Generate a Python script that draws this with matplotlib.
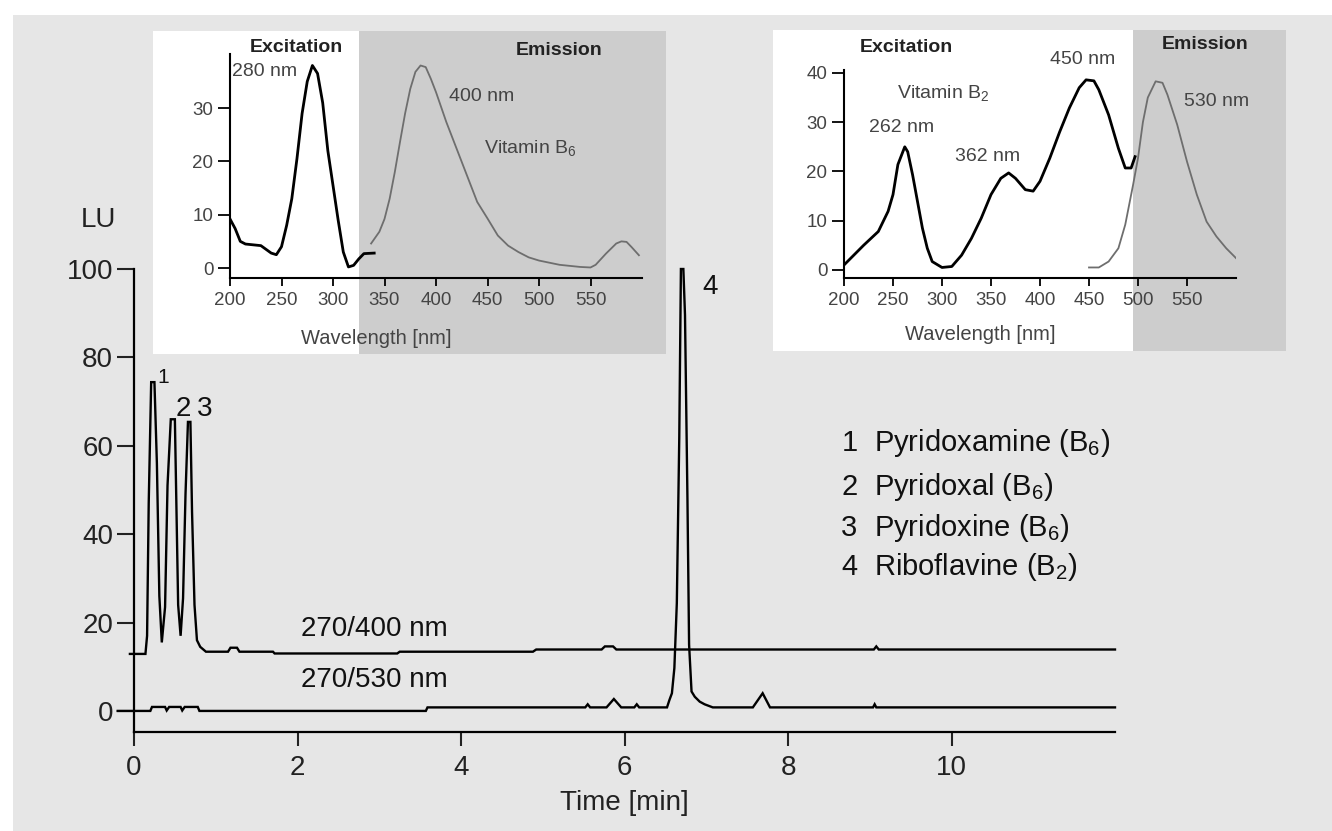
import matplotlib
matplotlib.use("Agg")
import matplotlib.pyplot as plt
from matplotlib.patches import Rectangle

plt.rcParams['font.family'] = ['Liberation Sans', 'DejaVu Sans']
plt.rcParams['mathtext.fontset'] = 'custom'
plt.rcParams['mathtext.rm'] = 'Liberation Sans'
plt.rcParams['mathtext.it'] = 'Liberation Sans:italic'
plt.rcParams['mathtext.bf'] = 'Liberation Sans:bold'

# ---------------- data ----------------
# main chromatogram, 270/400 nm trace (offset)
t400 = [-0.05, 0.14, 0.16, 0.18, 0.21, 0.25, 0.28, 0.31, 0.34, 0.38, 0.41, 0.45, 0.50,
        0.52, 0.54, 0.57, 0.60, 0.63, 0.66, 0.69, 0.71, 0.74, 0.77, 0.81, 0.88, 1.15,
        1.18, 1.26, 1.29, 1.70, 1.72, 3.22, 3.25, 4.88, 4.92, 5.72, 5.76, 5.86, 5.90,
        9.05, 9.08, 9.11, 12.0]
lu400 = [12.9, 12.9, 17.0, 47.0, 74.4, 74.4, 56.0, 26.0, 15.5, 23.5, 51.0, 66.0, 66.0,
         45.0, 24.0, 17.0, 25.5, 49.0, 65.4, 65.4, 45.0, 24.0, 16.0, 14.5, 13.4, 13.4,
         14.3, 14.3, 13.4, 13.4, 13.0, 13.0, 13.4, 13.4, 13.9, 13.9, 14.6, 14.6, 13.9,
         13.9, 14.6, 13.9, 13.9]
# 270/530 nm trace
t530 = [-0.2, 0.20, 0.22, 0.38, 0.40, 0.43, 0.57, 0.59, 0.62, 0.78, 0.80, 3.57, 3.59,
        5.52, 5.55, 5.58, 5.78, 5.87, 5.96, 6.12, 6.15, 6.18, 6.52, 6.55, 6.58, 6.61,
        6.64, 6.67, 6.69, 6.72, 6.74, 6.77, 6.79, 6.82, 6.86, 6.92, 6.98, 7.08, 7.57,
        7.69, 7.78, 9.04, 9.06, 9.08, 12.0]
lu530 = [0.0, 0.0, 0.9, 0.9, 0.1, 0.9, 0.9, 0.1, 0.9, 0.9, 0.0, 0.0, 0.8,
         0.8, 1.5, 0.8, 0.8, 2.7, 0.8, 0.8, 1.5, 0.8, 0.8, 2.5, 4.0, 9.7,
         24.4, 62.0, 100.0, 100.0, 89.6, 48.0, 15.0, 4.4, 3.2, 2.1, 1.5, 0.8, 0.8,
         4.0, 0.8, 0.8, 1.5, 0.8, 0.8]

# inset: vitamin B6 spectra
ex6_nm = [200, 205, 210, 215, 230, 240, 245, 250, 255, 260, 265, 270, 275, 280, 285,
          290, 295, 300, 305, 310, 315, 320, 325, 330, 340]
ex6_lu = [9.2, 7.4, 5.0, 4.5, 4.2, 2.8, 2.5, 4.0, 8.0, 13.0, 20.5, 29.0, 35.0, 38.0, 36.5,
          31.0, 22.0, 15.5, 9.0, 3.0, 0.2, 0.5, 1.7, 2.7, 2.8]
em6_nm = [337, 345, 350, 355, 360, 365, 370, 375, 380, 385, 390, 395, 400, 410, 420, 430,
          440, 450, 460, 470, 480, 490, 500, 520, 540, 550, 555, 565, 575, 580, 585, 590, 597]
em6_lu = [4.6, 6.8, 9.2, 13.0, 18.0, 23.6, 29.0, 33.6, 36.8, 38.0, 37.7, 35.5, 33.0, 27.4,
          22.4, 17.4, 12.4, 9.3, 6.1, 4.2, 3.0, 2.0, 1.4, 0.6, 0.2, 0.1, 0.6, 2.7, 4.6, 5.0,
          4.9, 3.9, 2.4]

# inset: vitamin B2 spectra
ex2_nm = [200, 210, 220, 235, 245, 250, 255, 262, 265, 270, 275, 280, 285, 290, 300, 310,
          320, 330, 340, 350, 360, 368, 375, 385, 393, 400, 410, 420, 430, 440, 447, 455,
          460, 470, 480, 487, 493, 497]
ex2_lu = [1.0, 3.0, 5.0, 7.8, 11.9, 15.3, 21.4, 25.0, 24.0, 19.3, 13.9, 8.5, 4.4, 1.7, 0.5,
          0.7, 3.0, 6.4, 10.5, 15.3, 18.6, 19.7, 18.6, 16.3, 16.0, 18.0, 22.7, 28.0, 32.9,
          37.0, 38.6, 38.4, 36.6, 31.5, 24.7, 20.7, 20.7, 23.0]
em2_nm = [450, 460, 470, 480, 487, 495, 500, 505, 510, 518, 525, 530, 540, 550, 560, 570,
          580, 590, 600]
em2_lu = [0.5, 0.5, 1.7, 4.4, 9.2, 17.3, 22.7, 30.0, 35.0, 38.3, 38.0, 35.6, 29.5, 22.0,
          15.3, 9.8, 6.8, 4.4, 2.4]

main_xticks = [0, 2, 4, 6, 8, 10]
main_yticks = [0, 20, 40, 60, 80, 100]
inset_xticks = [200, 250, 300, 350, 400, 450, 500, 550]
inset1_yticks = [0, 10, 20, 30]
inset2_yticks = [0, 10, 20, 30, 40]

legend_lines = [("1", r"Pyridoxamine (B$_{6}$)"),
                ("2", r"Pyridoxal (B$_{6}$)"),
                ("3", r"Pyridoxine (B$_{6}$)"),
                ("4", r"Riboflavine (B$_{2}$)")]

# ---------------- layout ----------------
W, H = 1332, 831
fig = plt.figure(figsize=(W / 100, H / 100), dpi=100)
fig.patch.set_facecolor('white')

def px_rect(x0, y0, x1, y1, **kw):
    r = Rectangle((x0 / W, 1 - y1 / H), (x1 - x0) / W, (y1 - y0) / H,
                  transform=fig.transFigure, **kw)
    fig.add_artist(r)
    return r

def px_axes(x0, y0, x1, y1):
    return fig.add_axes([x0 / W, 1 - y1 / H, (x1 - x0) / W, (y1 - y0) / H])

BG = '#e6e6e6'
EMG = '#cdcdcd'
px_rect(13, 15, W, H, facecolor=BG, edgecolor='none', zorder=-5)
# inset boxes
px_rect(153, 31, 359, 354, facecolor='white', edgecolor='none', zorder=1)
px_rect(359, 31, 666, 354, facecolor=EMG, edgecolor='none', zorder=1)
px_rect(773, 30, 1133, 351, facecolor='white', edgecolor='none', zorder=1)
px_rect(1133, 30, 1286, 351, facecolor=EMG, edgecolor='none', zorder=1)

# ---------------- main axes ----------------
ax = px_axes(134, 269, 1115, 731.7)
ax.set_zorder(0)
ax.patch.set_visible(False)
ax.plot(t400, lu400, color='black', lw=1.7, clip_on=False, solid_joinstyle='miter')
ax.plot(t530, lu530, color='black', lw=1.7, clip_on=False, solid_joinstyle='miter')
ax.set_xlim(0, 12)
ax.set_ylim(-4.7, 100)
for s in ['top', 'right']:
    ax.spines[s].set_visible(False)
for s in ['left', 'bottom']:
    ax.spines[s].set_linewidth(1.6)
ax.set_xticks(main_xticks)
ax.set_yticks(main_yticks)
ax.tick_params(axis='y', length=12, width=1.5, pad=3, labelsize=20, colors='#222222')
ax.tick_params(axis='x', length=10, width=1.5, pad=7, labelsize=20, colors='#222222')
ax.set_xlabel('Time [min]', fontsize=20, color='#222222', labelpad=6)
ax.text(-0.43, 111, 'LU', fontsize=20, ha='center', va='center', color='#222222', clip_on=False)

ax.text(2.94, 18.5, '270/400 nm', fontsize=20, ha='center', va='center', color='#111111')
ax.text(2.94, 7.0, '270/530 nm', fontsize=20, ha='center', va='center', color='#111111')
ax.text(0.28, 75.5, '1', fontsize=15, ha='left', va='center', color='#111111')
ax.text(0.51, 68.3, '2', fontsize=20, ha='left', va='center', color='#111111')
ax.text(0.77, 68.3, '3', fontsize=20, ha='left', va='center', color='#111111')
ax.text(7.05, 96.0, '4', fontsize=20, ha='center', va='center', color='#111111')

leg_y = [60.6, 50.6, 41.5, 32.5]
for (num, name), yy in zip(legend_lines, leg_y):
    ax.text(8.75, yy, num, fontsize=21, ha='center', va='center', color='#111111')
    ax.text(9.05, yy, name, fontsize=21, ha='left', va='center', color='#111111')

# ---------------- inset 1 (B6) ----------------
def style_inset(a, yticks):
    a.set_zorder(2)
    a.patch.set_visible(False)
    for s in ['top', 'right']:
        a.spines[s].set_visible(False)
    for s in ['left', 'bottom']:
        a.spines[s].set_linewidth(1.5)
    a.set_xlim(200, 600)
    a.set_xticks(inset_xticks)
    a.set_yticks(yticks)
    a.tick_params(axis='y', length=9, width=1.3, pad=3, labelsize=13.5, colors='black',
                  labelcolor='#444444')
    a.tick_params(axis='x', length=6, width=1.3, pad=4, labelsize=13.5, colors='black',
                  labelcolor='#444444')

a1 = px_axes(230, 54.3, 642, 278.3)
style_inset(a1, inset1_yticks)
a1.set_ylim(-1.93, 40.1)
a1.plot(ex6_nm, ex6_lu, color='black', lw=2.0)
a1.plot(em6_nm, em6_lu, color='#6e6e6e', lw=1.3)
a1.text(264, 41.3, 'Excitation', fontsize=14, fontweight='bold', ha='center', va='center',
        color='#222222', clip_on=False)
a1.text(520, 40.9, 'Emission', fontsize=14, fontweight='bold', ha='center', va='center',
        color='#222222', clip_on=False)
a1.text(202, 36.8, '280 nm', fontsize=14, ha='left', va='center', color='#444444')
a1.text(413, 32.1, '400 nm', fontsize=14, ha='left', va='center', color='#444444')
a1.text(447, 22.5, r'Vitamin B$_{6}$', fontsize=14, ha='left', va='center', color='#444444')
a1.text(342, -13.2, 'Wavelength [nm]', fontsize=14.5, ha='center', va='center',
        color='#444444', clip_on=False)

# ---------------- inset 2 (B2) ----------------
a2 = px_axes(844, 70, 1236, 278.3)
style_inset(a2, inset2_yticks)
a2.set_ylim(-1.7, 40.6)
a2.plot(ex2_nm, ex2_lu, color='black', lw=2.0)
a2.plot(em2_nm, em2_lu, color='#6e6e6e', lw=1.3)
a2.text(264, 45.1, 'Excitation', fontsize=14, fontweight='bold', ha='center', va='center',
        color='#222222', clip_on=False)
a2.text(568, 45.8, 'Emission', fontsize=14, fontweight='bold', ha='center', va='center',
        color='#222222', clip_on=False)
a2.text(443, 42.7, '450 nm', fontsize=14, ha='center', va='center', color='#444444',
        clip_on=False)
a2.text(254, 36.0, r'Vitamin B$_{2}$', fontsize=14, ha='left', va='center', color='#444444')
a2.text(259, 28.9, '262 nm', fontsize=14, ha='center', va='center', color='#444444')
a2.text(346, 23.0, '362 nm', fontsize=14, ha='center', va='center', color='#444444')
a2.text(580, 34.2, '530 nm', fontsize=14, ha='center', va='center', color='#444444')
a2.text(339, -13.2, 'Wavelength [nm]', fontsize=14.5, ha='center', va='center',
        color='#444444', clip_on=False)

fig.savefig('out.png', dpi=100, facecolor=fig.get_facecolor())
